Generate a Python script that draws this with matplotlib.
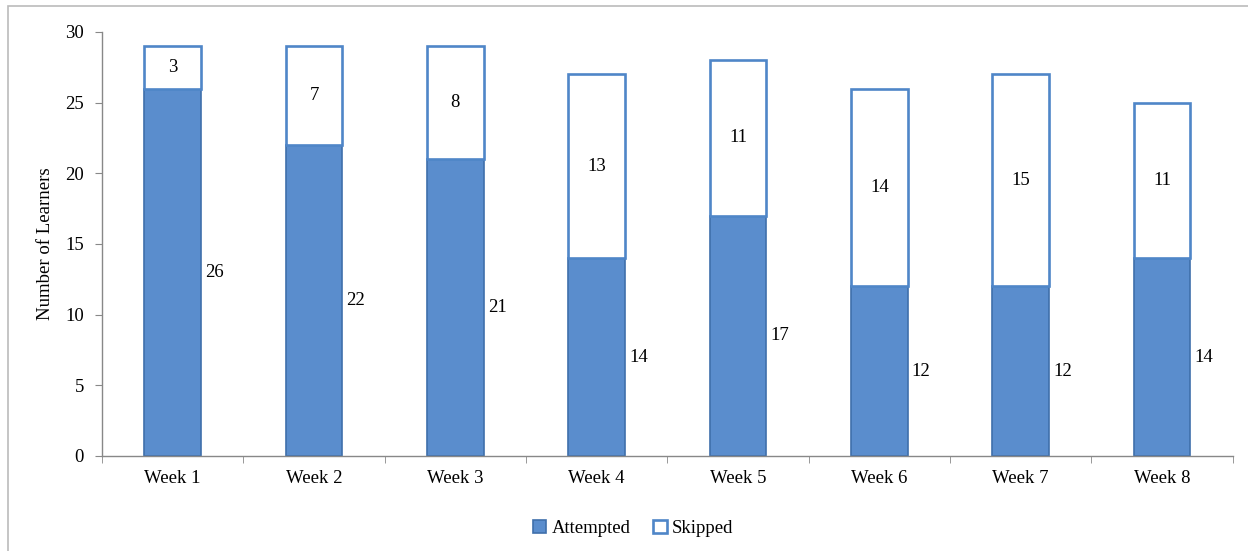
import numpy as np
import matplotlib.pyplot as plt
from matplotlib.patches import Rectangle

weeks = ['Week 1', 'Week 2', 'Week 3', 'Week 4', 'Week 5', 'Week 6', 'Week 7', 'Week 8']
attempted = [26, 22, 21, 14, 17, 12, 12, 14]
skipped = [3, 7, 8, 13, 11, 14, 15, 11]

plt.rcParams['font.family'] = ['Liberation Serif', 'DejaVu Serif']
plt.rcParams['font.size'] = 13.5

fig = plt.figure(figsize=(12.48, 5.51), dpi=100)
ax = fig.add_axes([102/1248, 1 - 456/551, (1232.6 - 102)/1248, (456 - 32)/551])

x = np.arange(len(weeks))
att = np.array(attempted)
skp = np.array(skipped)
w = 0.4

ax.bar(x, att, w, color='#5a8dcd', edgecolor='#3f70ab', linewidth=1.2, label='Attempted', zorder=2)
ax.bar(x, skp, w, bottom=att, color='white', edgecolor='#4f86c8', linewidth=1.9, label='Skipped', zorder=2)

for i in range(len(weeks)):
    ax.text(x[i] + w/2 + 0.03, att[i]/2, str(att[i]), ha='left', va='center')
    ax.text(x[i], att[i] + skp[i]/2, str(skp[i]), ha='center', va='center')

ax.set_xlim(-0.5, len(weeks) - 0.5)
ax.set_ylim(0, 30)
ax.set_yticks(range(0, 31, 5))
ax.set_xticks(x)
ax.set_xticklabels(weeks)
ax.set_xticks(np.arange(-0.5, len(weeks)), minor=True)
ax.tick_params(axis='x', which='major', length=0, pad=10)
ax.tick_params(axis='x', which='minor', length=5, color='#888888', direction='out')
ax.tick_params(axis='y', length=5, color='#888888', direction='out', pad=8)
ax.set_ylabel('Number of Learners', labelpad=8)

for s in ['top', 'right']:
    ax.spines[s].set_visible(False)
for s in ['left', 'bottom']:
    ax.spines[s].set_color('#888888')
    ax.spines[s].set_linewidth(1.0)

ax.legend(loc='upper center', bbox_to_anchor=(0.47, -0.11), ncol=2, frameon=False,
          handlelength=0.7, handleheight=0.7, handletextpad=0.3, columnspacing=1.2)

# light frame along the top and left edge
fig.add_artist(Rectangle((8/1248, -0.1), 1.2, 1 - 6/551 + 0.1, transform=fig.transFigure,
                         fill=False, edgecolor='#bbbbbb', linewidth=1.2))

fig.savefig('out.png', dpi=100)
